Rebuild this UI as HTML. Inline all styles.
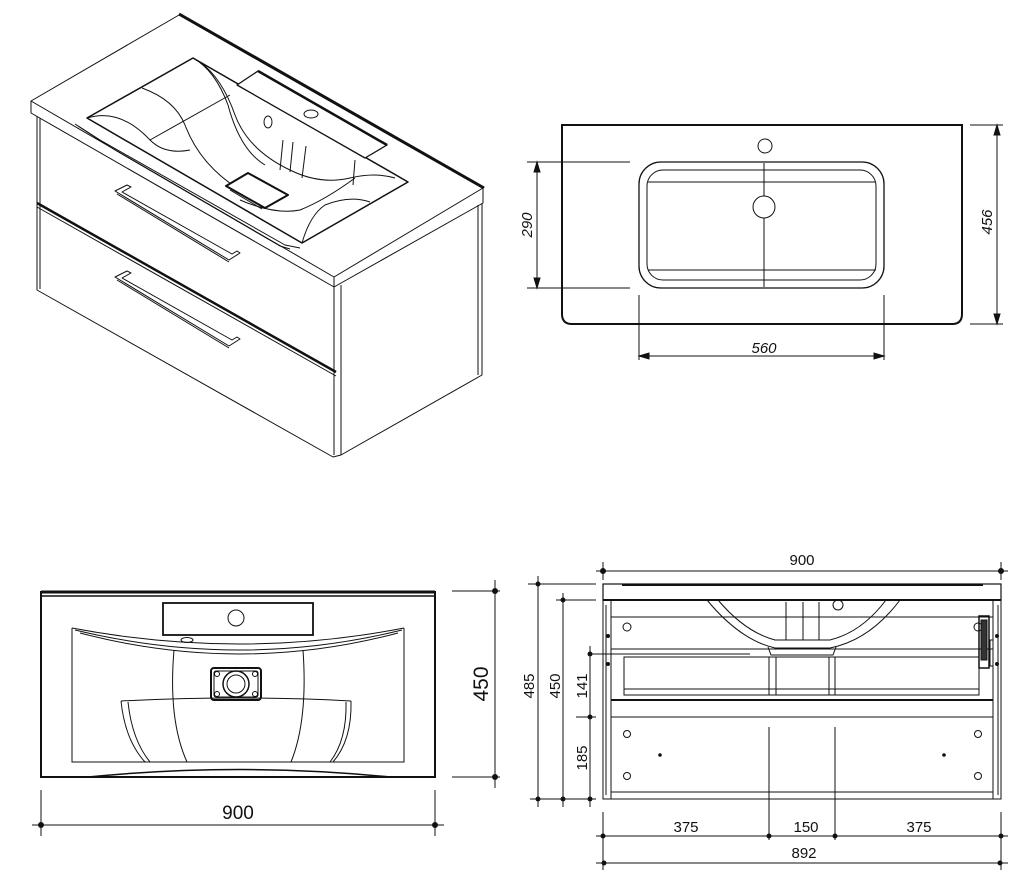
<!DOCTYPE html>
<html><head><meta charset="utf-8"><style>
html,body{margin:0;padding:0;background:#fff}
svg{display:block}
text{font-family:"Liberation Sans",sans-serif;fill:#111;stroke:none}
</style></head><body>
<svg width="1019" height="895" viewBox="0 0 1019 895" xmlns="http://www.w3.org/2000/svg" fill="none" stroke="#111" stroke-width="1">

<!-- ===== ISOMETRIC VIEW ===== -->
<g stroke-linejoin="round">
  <polygon points="31,101 179,15 483,188 334,277" fill="#fff"/>
  <line x1="179" y1="14" x2="484" y2="188" stroke-width="3"/>
  <polyline points="31,101 31,113 334,287 334,277"/>
  <polyline points="334,287 483,203 483,188"/>
  <polyline points="37,116 37,290 333,457"/>
  <line x1="40" y1="118" x2="40" y2="289"/>
  <polyline points="333,457 341,455 482,375 482,203"/>
  <line x1="334" y1="287" x2="334" y2="455"/>
  <line x1="341" y1="285" x2="341" y2="455"/>
  <line x1="478" y1="205" x2="478" y2="375"/>
  <line x1="37" y1="203" x2="336" y2="372" stroke-width="2.5"/>
  <line x1="37" y1="207" x2="336" y2="376"/>
  <!-- basin -->
  <polygon points="87,118 193,58 408,182 302,243" stroke-width="1.5"/>
  <polyline points="75,124 100,140 285,245 300,248" />
  <path d="M78,126 L115,150 L280,246 L290,249"/>
  <path d="M87,118 Q120,108 150,140 Q165,155 190,150"/>
  <path d="M142,88 Q175,100 185,125 Q200,165 240,190"/>
  <path d="M193,58 Q215,70 228,105 Q240,150 265,165"/>
  <path d="M200,62 Q222,78 235,115 Q248,150 290,170 Q320,185 350,178 Q375,172 395,178"/>
  <path d="M302,243 Q310,215 325,205 Q350,195 370,202"/>
  <path d="M240,200 Q275,215 300,210 Q325,200 355,178"/>
  <line x1="150" y1="140" x2="230" y2="95"/>
  <line x1="283" y1="140" x2="280" y2="170"/>
  <line x1="293" y1="142" x2="290" y2="172"/>
  <line x1="306" y1="146" x2="302" y2="178"/>
  <line x1="355" y1="160" x2="353" y2="185"/>
  <polygon points="237,85 258,71 387,145 365,158" fill="#fff" stroke-width="1.3"/>
  <line x1="258" y1="71" x2="387" y2="145" stroke-width="2.5"/>
  <ellipse cx="311" cy="114" rx="7" ry="4"/>
  <ellipse cx="268" cy="122" rx="4" ry="6"/>
  <polygon points="226,186 248,173 288,195 265,208" fill="#fff" stroke-width="2"/>
  <line x1="230" y1="190" x2="262" y2="209"/>
  <path d="M115,191 L127,185 L131,187 L122,192 L232,254 L237,251 L240,253 L229,260 Z" fill="#fff"/>
  <line x1="117" y1="194" x2="229" y2="262"/>
  <path d="M115,277 L127,271 L131,273 L122,278 L232,340 L237,337 L240,339 L229,346 Z" fill="#fff"/>
  <line x1="117" y1="280" x2="229" y2="348"/>
</g>

<!-- ===== TOP VIEW ===== -->
<g>
  <path d="M562,125 H962 V314 Q962,324 952,324 H572 Q562,324 562,314 Z" stroke-width="2"/>
  <rect x="639" y="162" width="245" height="126" rx="22" stroke-width="1.3"/>
  <rect x="647" y="170" width="229" height="110" rx="16"/>
  <line x1="648" y1="182" x2="876" y2="182"/>
  <line x1="648" y1="270" x2="876" y2="270"/>
  <circle cx="765" cy="146" r="7"/>
  <circle cx="764" cy="207" r="11"/>
  <line x1="764" y1="163" x2="764" y2="196"/>
  <line x1="764" y1="218" x2="764" y2="287"/>
  <line x1="527" y1="162" x2="630" y2="162"/>
  <line x1="527" y1="288" x2="630" y2="288"/>
  <line x1="537" y1="162" x2="537" y2="288"/>
  <path d="M537,162 l-3,10 h6 z M537,288 l-3,-10 h6 z" fill="#111"/>
  <text x="537" y="225" font-size="15" font-style="italic" text-anchor="middle" transform="rotate(-90 537 225)" dy="-5">290</text>
  <line x1="970" y1="125" x2="1003" y2="125"/>
  <line x1="970" y1="324" x2="1003" y2="324"/>
  <line x1="997" y1="125" x2="997" y2="324"/>
  <path d="M997,125 l-3,10 h6 z M997,324 l-3,-10 h6 z" fill="#111"/>
  <text x="997" y="222" font-size="15" font-style="italic" text-anchor="middle" transform="rotate(-90 997 222)" dy="-5">456</text>
  <line x1="639" y1="295" x2="639" y2="360"/>
  <line x1="884" y1="295" x2="884" y2="360"/>
  <line x1="639" y1="356" x2="884" y2="356"/>
  <path d="M639,356 l10,-3 v6 z M884,356 l-10,-3 v6 z" fill="#111"/>
  <text x="764" y="353" font-size="15" font-style="italic" text-anchor="middle">560</text>
</g>

<!-- ===== FRONT (SECTION) VIEW LEFT ===== -->
<g>
  <rect x="41" y="592" width="394" height="185" stroke-width="2"/>
  <line x1="41" y1="592" x2="435" y2="592" stroke-width="3"/>
  <line x1="41" y1="596" x2="435" y2="596" stroke-width="1.5"/>
  <rect x="163" y="603" width="150" height="32" stroke-width="1.8"/>
  <circle cx="236" cy="618" r="8"/>
  <path d="M72,628 V762 H404 V628"/>
  <path d="M72,628 Q240,660 404,628"/>
  <path d="M75,630 Q240,670 402,630"/>
  <path d="M80,633 Q240,675 398,633"/>
  <ellipse cx="187" cy="640" rx="6" ry="2.5"/>
  <path d="M174,650 Q168,720 187,762"/>
  <path d="M303,650 Q308,720 291,762"/>
  <path d="M121,701 Q240,695 351,701"/>
  <path d="M121,701 Q125,740 145,762"/>
  <path d="M128,702 Q132,740 150,762"/>
  <path d="M351,701 Q352,740 333,762"/>
  <path d="M346,702 Q347,740 330,762"/>
  <rect x="211" y="668" width="50" height="32" rx="3" stroke-width="2"/>
  <rect x="214" y="671" width="44" height="26" rx="2"/>
  <circle cx="236" cy="684" r="13" stroke-width="1.5"/>
  <circle cx="236" cy="684" r="9"/>
  <circle cx="217" cy="674" r="2.5"/><circle cx="255" cy="674" r="2.5"/>
  <circle cx="217" cy="694" r="2.5"/><circle cx="255" cy="694" r="2.5"/>
  <path d="M88,777 Q240,762 390,777" stroke-width="1.5"/>
  <line x1="452" y1="591" x2="500" y2="591"/>
  <line x1="452" y1="777" x2="500" y2="777"/>
  <line x1="495" y1="580" x2="495" y2="788"/>
  <circle cx="495" cy="591" r="2.5" fill="#111"/><circle cx="495" cy="777" r="2.5" fill="#111"/>
  <text x="480" y="684" font-size="21" text-anchor="middle" transform="rotate(-90 480 684)" dy="8">450</text>
  <line x1="41" y1="790" x2="41" y2="836"/>
  <line x1="435" y1="790" x2="435" y2="836"/>
  <line x1="32" y1="825" x2="444" y2="825"/>
  <circle cx="41" cy="825" r="2.5" fill="#111"/><circle cx="435" cy="825" r="2.5" fill="#111"/>
  <text x="238" y="819" font-size="19" text-anchor="middle">900</text>
</g>

<!-- ===== FRONT VIEW RIGHT ===== -->
<g>
  <rect x="603" y="584" width="398" height="16" stroke-width="1.2"/>
  <line x1="622" y1="585" x2="983" y2="585" stroke-width="2"/>
  <line x1="603" y1="600" x2="1001" y2="600" stroke-width="2"/>
  <rect x="603" y="600" width="8" height="199"/>
  <line x1="606" y1="605" x2="606" y2="795"/>
  <rect x="993" y="600" width="8" height="199"/>
  <line x1="998" y1="605" x2="998" y2="795"/>
  <line x1="611" y1="799" x2="993" y2="799"/>
  <line x1="611" y1="617" x2="993" y2="617"/>
  <line x1="611" y1="649" x2="993" y2="649"/>
  <line x1="611" y1="700" x2="993" y2="700" stroke-width="2"/>
  <line x1="611" y1="717" x2="993" y2="717"/>
  <line x1="611" y1="792" x2="993" y2="792"/>
  <rect x="624" y="657" width="355" height="38"/>
  <line x1="624" y1="689" x2="979" y2="689"/>
  <line x1="769" y1="657" x2="769" y2="695"/><line x1="776" y1="657" x2="776" y2="695"/>
  <line x1="829" y1="657" x2="829" y2="695"/><line x1="835" y1="657" x2="835" y2="695"/>
  <path d="M707,600 Q740,640 775,648 H830 Q870,640 900,600"/>
  <path d="M718,600 Q745,632 775,640 H830 Q862,632 886,600"/>
  <line x1="786" y1="602" x2="786" y2="640"/><line x1="803" y1="602" x2="803" y2="640"/>
  <line x1="819" y1="602" x2="819" y2="640"/>
  <path d="M768,647 L771,655 H833 L836,647"/>
  <circle cx="838" cy="605" r="5"/>
  <circle cx="627" cy="627" r="4"/><circle cx="978" cy="627" r="4"/>
  <circle cx="627" cy="734" r="3.5"/><circle cx="978" cy="734" r="3.5"/>
  <circle cx="627" cy="776" r="3.5"/><circle cx="978" cy="776" r="3.5"/>
  <circle cx="660" cy="755" r="1.3" fill="#111"/><circle cx="944" cy="755" r="1.3" fill="#111"/>
  <circle cx="608" cy="636" r="1.5" fill="#111"/><circle cx="608" cy="664" r="1.5" fill="#111"/>
  <circle cx="997" cy="636" r="1.5" fill="#111"/><circle cx="997" cy="664" r="1.5" fill="#111"/>
  <rect x="979" y="616" width="10" height="52" stroke-width="1.5"/>
  <rect x="981" y="620" width="6" height="40" fill="#333"/>
  <rect x="990" y="640" width="3" height="26"/>
  <line x1="769" y1="727" x2="769" y2="840"/>
  <line x1="835" y1="727" x2="835" y2="840"/>
  <line x1="750" y1="654" x2="590" y2="654"/>
  <line x1="603" y1="562" x2="603" y2="580"/><line x1="1001" y1="562" x2="1001" y2="580"/>
  <line x1="596" y1="571" x2="1008" y2="571"/>
  <circle cx="603" cy="571" r="2.5" fill="#111"/><circle cx="1001" cy="571" r="2.5" fill="#111"/>
  <text x="802" y="565" font-size="15" text-anchor="middle">900</text>
  <line x1="528" y1="584" x2="596" y2="584"/>
  <line x1="556" y1="600" x2="596" y2="600"/>
  <line x1="576" y1="717" x2="596" y2="717"/>
  <line x1="530" y1="799" x2="596" y2="799"/>
  <line x1="538" y1="576" x2="538" y2="807"/>
  <line x1="563" y1="593" x2="563" y2="807"/>
  <line x1="590" y1="646" x2="590" y2="807"/>
  <g fill="#111" stroke="none">
    <circle cx="538" cy="584" r="2.5"/><circle cx="538" cy="799" r="2.5"/>
    <circle cx="563" cy="600" r="2.5"/><circle cx="563" cy="799" r="2.5"/>
    <circle cx="590" cy="654" r="2.5"/><circle cx="590" cy="717" r="2.5"/><circle cx="590" cy="799" r="2.5"/>
  </g>
  <text x="529" y="686" font-size="15" text-anchor="middle" transform="rotate(-90 529 686)" dy="5">485</text>
  <text x="555" y="686" font-size="15" text-anchor="middle" transform="rotate(-90 555 686)" dy="5">450</text>
  <text x="582" y="686" font-size="15" text-anchor="middle" transform="rotate(-90 582 686)" dy="5">141</text>
  <text x="582" y="758" font-size="15" text-anchor="middle" transform="rotate(-90 582 758)" dy="5">185</text>
  <line x1="603" y1="812" x2="603" y2="870"/><line x1="1001" y1="812" x2="1001" y2="870"/>
  <line x1="596" y1="836" x2="1008" y2="836"/>
  <line x1="596" y1="863" x2="1008" y2="863"/>
  <g fill="#111" stroke="none">
    <circle cx="603" cy="836" r="2.5"/><circle cx="769" cy="836" r="2.5"/><circle cx="835" cy="836" r="2.5"/><circle cx="1001" cy="836" r="2.5"/>
    <circle cx="604" cy="863" r="2.5"/><circle cx="1000" cy="863" r="2.5"/>
  </g>
  <text x="686" y="832" font-size="15" text-anchor="middle">375</text>
  <text x="806" y="832" font-size="15" text-anchor="middle">150</text>
  <text x="919" y="832" font-size="15" text-anchor="middle">375</text>
  <text x="804" y="858" font-size="15" text-anchor="middle">892</text>
</g>
</svg>
</body></html>
